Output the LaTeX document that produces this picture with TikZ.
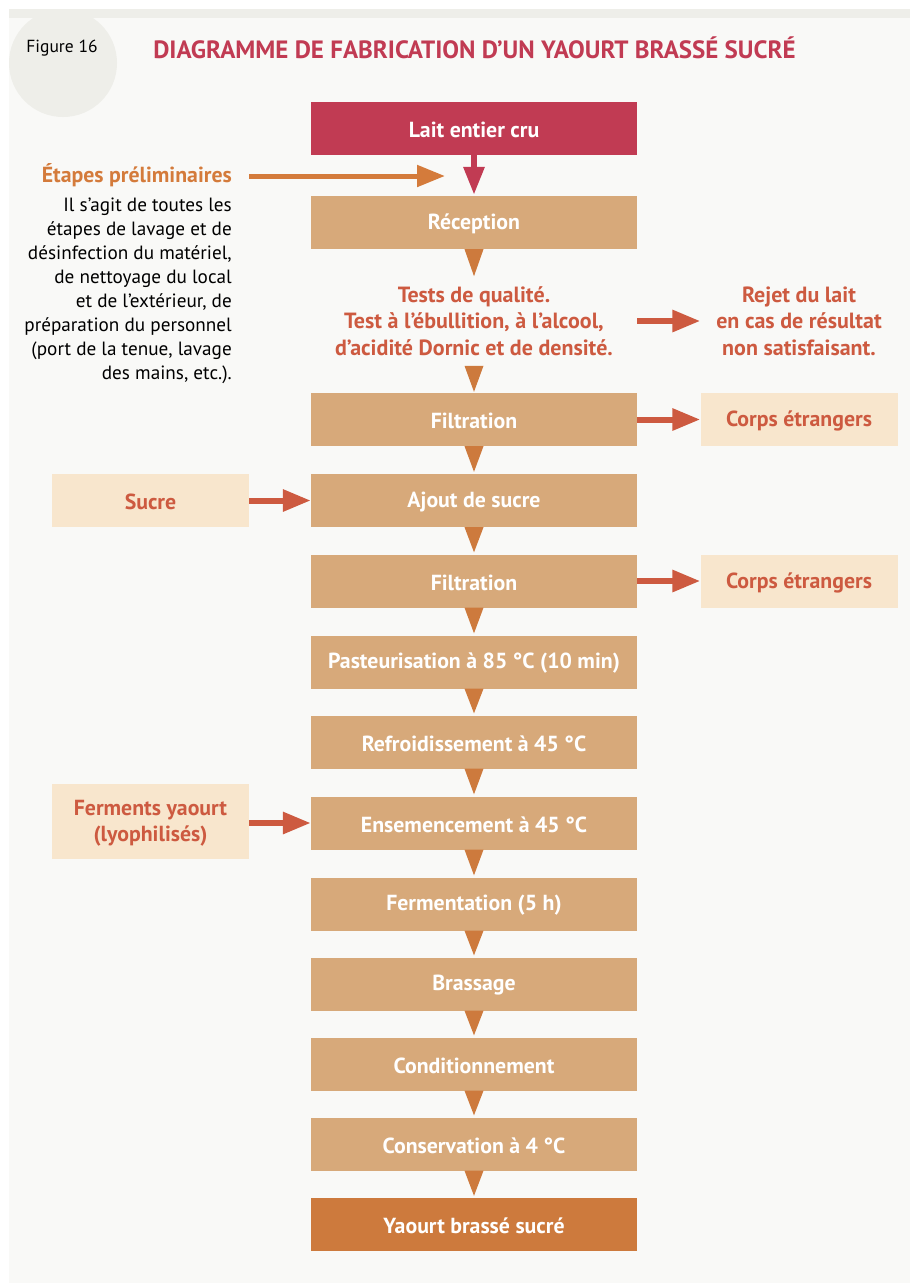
\documentclass[tikz,border=0pt]{standalone}
\usepackage{fontspec}
\setmainfont{PT Sans}
\usetikzlibrary{arrows.meta,calc}
\definecolor{crimson}{HTML}{C13B53}
\definecolor{tan}{HTML}{D7A97A}
\definecolor{triorange}{HTML}{CD7A3D}
\definecolor{redarrow}{HTML}{CD5A40}
\definecolor{lightbox}{HTML}{F8E6CD}
\definecolor{panel}{HTML}{F9F9F7}
\definecolor{band}{HTML}{EEEEE9}
\definecolor{etapes}{HTML}{D47B3B}
\newcommand\mytri[2]{\fill[triorange] ($(#1)+(-9.5,0)$) -- ($(#1)+(9.5,0)$) -- (#2) -- cycle;}
\begin{document}
\begin{tikzpicture}[x=1pt,y=-1pt,
  lbl/.style={font=\fontsize{21.8}{26}\selectfont\bfseries},
  stepbox/.style={fill=tan, minimum width=326pt, minimum height=53pt, inner sep=0pt,
    text=white, lbl, text depth=0pt, text height=0pt},
  sidebox/.style={fill=lightbox, minimum width=197pt, minimum height=53pt, inner sep=0pt,
    text=redarrow, align=center, font=\fontsize{21.8}{26}\selectfont\bfseries},
  redtext/.style={text=redarrow, align=center, inner sep=0pt, font=\fontsize{22}{26.5}\selectfont\bfseries},
  redarr/.style={draw=redarrow, line width=6pt, -{Triangle[width=21pt,length=28pt]}},
]
\useasboundingbox (0,0) rectangle (910,1283);
\fill[white] (0,0) rectangle (910,1283);
\fill[panel] (9,9) rectangle (910,1283);
\fill[band] (9,9) rectangle (910,18);
\fill[band] (63,63) circle (54);
\node[font=\fontsize{17.5}{20}\selectfont] (fig) at (62,48) {Figure 16};
\node[text=crimson, font=\fontsize{25}{28}\selectfont\bfseries] (title) at (474.5,48) {DIAGRAMME DE FABRICATION D’UN YAOURT BRASSÉ SUCRÉ};

\tikzset{stepbox/.append style={}}
\node[stepbox, fill=crimson] (lait) at (474,128.5) {};
\node[stepbox] (recep) at (474,222.5) {};
\node[stepbox] (filt1) at (474,419.5) {};
\node[stepbox] (ajout) at (474,500.5) {};
\node[stepbox] (filt2) at (474,581) {};
\node[stepbox] (past) at (474,662) {};
\node[stepbox] (refr) at (474,742) {};
\node[stepbox] (ens) at (474,823) {};
\node[stepbox] (ferm) at (474,904) {};
\node[stepbox] (bras) at (474,984) {};
\node[stepbox] (cond) at (474,1064) {};
\node[stepbox] (cons) at (474,1144) {};
\node[stepbox, fill=triorange] (yaourt) at (474,1224.5) {};
\foreach \n/\t in {lait/Lait entier cru, recep/Réception, filt1/Filtration, ajout/Ajout de sucre, filt2/Filtration,
  past/Pasteurisation à 85 °C (10 min), refr/Refroidissement à 45 °C, ens/Ensemencement à 45 °C,
  ferm/Fermentation (5 h), bras/Brassage, cond/Conditionnement, cons/Conservation à 4 °C, yaourt/Yaourt brassé sucré}
  {\node[text=white, lbl, inner sep=0pt, yshift=-1.5pt] (\n-t) at (\n) {\t};}

\node[redtext] (tests) at (474,321) {Tests de qualité.\\Test à l’ébullition, à l’alcool,\\d’acidité Dornic et de densité.};
\node[redtext] (rejet) at (799,321) {Rejet du lait\\en cas de résultat\\non satisfaisant.};

\node[sidebox] (corps1) at (799,419.5) {};
\node[sidebox] (corps2) at (799,581) {};
\node[sidebox] (sucre) at (150.5,500.5) {};
\node[sidebox, minimum height=75pt] (ferments) at (150.5,821.5) {};
\foreach \n/\t in {corps1/Corps étrangers, corps2/Corps étrangers, sucre/Sucre, ferments/{Ferments yaourt\\(lyophilisés)}}
  {\node[text=redarrow, align=center, lbl, inner sep=0pt, yshift=-1.5pt] (\n-t) at (\n) {\t};}

\node[anchor=east, text=etapes, inner sep=0pt, lbl] (etapes) at (232,175) {Étapes préliminaires};
\node[anchor=north east, align=right, inner sep=0pt, font=\fontsize{19.2}{24}\selectfont] (desc) at (232,198) {Il s’agit de toutes les\\étapes de lavage et de\\désinfection du matériel,\\de nettoyage du local\\et de l’extérieur, de\\préparation du personnel\\(port de la tenue, lavage\\des mains, etc.).};
\coordinate (etapesend) at (445,176);
\draw[draw=etapes, line width=5pt, -{Triangle[width=21pt,length=28pt]}] ($(etapes.east|-etapesend)+(17,0)$) -- (etapesend);

\draw[draw=crimson, line width=6pt, -{Triangle[width=20pt,length=28pt]}] (lait.south) -- ($(recep.north)+(0,-1)$);

\mytri{recep.south}{$(recep.south)+(0,27)$}
\mytri{$(filt1.north)+(0,-27)$}{$(filt1.north)+(0,-1)$}
\foreach \a/\b in {filt1/ajout, ajout/filt2, filt2/past, past/refr, refr/ens, ens/ferm, ferm/bras, bras/cond, cond/cons, cons/yaourt}
  {\mytri{\a.south}{$(\b.north)+(0,-2)$}}

\draw[redarr] (tests.east-|recep.east) -- (rejet.west-|corps1.west);
\draw[redarr] (filt1.east) -- (corps1.west);
\draw[redarr] (filt2.east) -- (corps2.west);
\draw[redarr] (sucre.east) -- (ajout.west);
\draw[redarr] (ferments.east|-ens) -- (ens.west);
\end{tikzpicture}
\end{document}
